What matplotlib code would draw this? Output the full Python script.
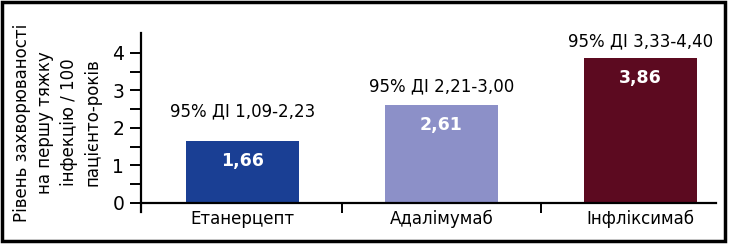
import matplotlib.pyplot as plt
from matplotlib.patches import Rectangle

drugs = ["Етанерцепт", "Адалімумаб", "Інфліксимаб"]
rates = [1.66, 2.61, 3.86]
value_labels = ["1,66", "2,61", "3,86"]
ci_labels = ["95% ДІ 1,09-2,23", "95% ДІ 2,21-3,00", "95% ДІ 3,33-4,40"]
y_ticks = [0, 1, 2, 3, 4]

colors = ["#1a3f94", "#8c90c8", "#5c0a20"]
ci_offsets = [20, 10, 8]

plt.rcParams["font.family"] = ["DejaVu Sans"]

fig = plt.figure(figsize=(7.33, 2.45), dpi=100)
ax = fig.add_axes([141 / 733, 33 / 245, 575 / 733, 179 / 245])

x = range(len(drugs))
bars = ax.bar(x, rates, width=0.565, color=colors)

for i, bar in enumerate(bars):
    cx = bar.get_x() + bar.get_width() / 2
    top = bar.get_height()
    ax.annotate(value_labels[i], (cx, top), xytext=(0, -14.5), textcoords="offset points",
                ha="center", va="center", color="white", fontsize=12.5, fontweight="bold")
    ax.annotate(ci_labels[i], (cx, top), xytext=(0, ci_offsets[i] * 0.72), textcoords="offset points",
                ha="center", va="bottom", color="black", fontsize=12)

ax.set_xlim(-0.51, 2.38)
ax.set_ylim(-0.24, 4.53)

ax.spines["top"].set_visible(False)
ax.spines["right"].set_visible(False)
ax.spines["bottom"].set_position(("data", 0))
ax.spines["left"].set_linewidth(1.6)
ax.spines["bottom"].set_linewidth(1.6)

ax.set_yticks(y_ticks)
ax.set_yticklabels([str(t) for t in y_ticks], fontsize=13.5)
ax.set_yticks([0.5, 1.5, 2.5, 3.5], minor=True)
ax.tick_params(axis="y", which="both", direction="out", length=8, width=1.4, pad=4)

ax.set_xticks([0.5, 1.5])
ax.set_xticklabels(["", ""])
ax.tick_params(axis="x", direction="out", length=7, width=1.4)
for i, name in enumerate(drugs):
    ax.text(i, -0.43, name, ha="center", va="center", fontsize=12)

fig.text(0.078, 0.50, "Рівень захворюваності\nна першу тяжку\nінфекцію / 100\nпацієнто-років",
         rotation=90, ha="center", va="center", fontsize=12, linespacing=1.4)

fig.patches.append(Rectangle((2 / 733, 4 / 245), 723 / 733, 239 / 245, transform=fig.transFigure,
                             fill=False, edgecolor="black", linewidth=2.5))

fig.savefig("out.png", dpi=100)
